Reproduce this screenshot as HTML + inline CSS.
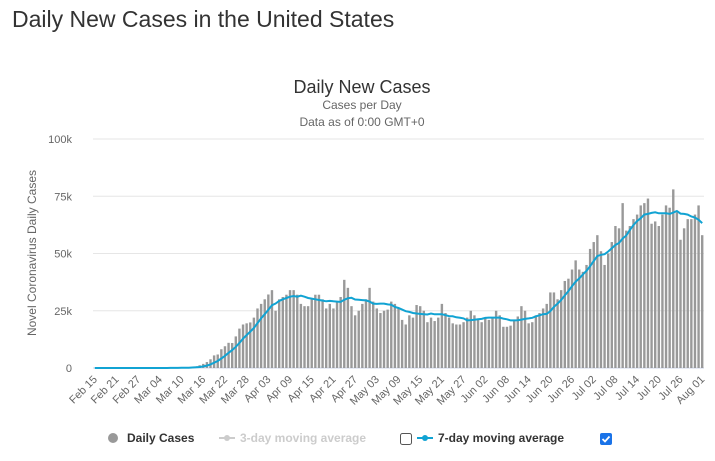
<!DOCTYPE html>
<html><head><meta charset="utf-8">
<style>
body{margin:0;background:#fff;font-family:"Liberation Sans",sans-serif;}
#wrap{position:relative;width:715px;height:461px;overflow:hidden;}
h1{position:absolute;left:12px;top:6px;margin:0;font-weight:normal;font-size:23px;color:#333;}
</style></head><body>
<div id="wrap">
<h1>Daily New Cases in the United States</h1>
<svg id="chart" width="715" height="461" style="position:absolute;left:0;top:0"></svg>
</div>
<script>
const startDate = [2020, 2, 15];
const dailyCases = [
0,0,0,0,0,0,0,0,0,0,0,0,0,0,0,
5,10,15,20,30,40,60,80,100,150,250,350,450,700,
1200,1800,2600,3800,5500,5900,8200,9500,11000,10900,13800,17200,19000,19500,19900,22000,26000,
28000,30000,32100,34000,25000,30000,31000,32000,34000,34000,32000,28000,27000,27000,30000,32000,32000,30000,26000,28000,26000,29000,31000,38500,35000,27000,23000,25000,28000,30000,
35000,29000,26000,24000,25000,25500,29000,28000,26000,21000,19000,23000,22000,27500,27000,25000,20000,22000,20500,22000,28000,24000,22000,19500,19000,19000,20000,22000,25000,23000,21000,
20000,22000,21000,22000,25000,23000,18000,18000,18500,21000,22500,27000,25000,19500,20000,23000,24000,26000,28000,33000,33000,30000,34000,38000,39000,43000,47000,43000,42000,45000,
52000,55000,58000,51000,45000,50000,55000,62000,61000,72000,60000,62000,65000,67000,71000,72000,74000,63000,64000,62000,67000,71000,70000,78000,68000,56000,61000,65000,65000,67000,71000,
58000];
const yTicks = [0,25000,50000,75000,100000];
const yTickLabels = ["0","25k","50k","75k","100k"];

const NS="http://www.w3.org/2000/svg";
const svg=document.getElementById('chart');
const X0=93,X1=704,Y0=368,Y1=139,YMAX=100000;
const n=dailyCases.length;
const step=(X1-X0)/n;
function xAt(i){return X0+(i+0.5)*step;}
function yAt(v){return Y0-(v/YMAX)*(Y0-Y1);}
function mk(tag,attrs,parent){const e=document.createElementNS(NS,tag);for(const k in attrs)e.setAttribute(k,attrs[k]);(parent||svg).appendChild(e);return e;}
function txt(s,attrs){const e=mk('text',attrs);e.textContent=s;return e;}

let t;
t=txt('Daily New Cases',{x:362,y:93,'text-anchor':'middle','font-size':18,fill:'#333'});


t=txt('Cases per Day',{x:362,y:109,'text-anchor':'middle','font-size':12,fill:'#666'});


t=txt('Data as of 0:00 GMT+0',{x:362,y:126,'text-anchor':'middle','font-size':12,fill:'#666'});


t=txt('Novel Coronavirus Daily Cases',{x:0,y:0,'text-anchor':'middle','font-size':12,fill:'#666',transform:'translate(36,253) rotate(-90)'});



yTicks.forEach((v,i)=>{
  const g=mk('line',{x1:X0,x2:X1,y1:yAt(v),y2:yAt(v),stroke:i===0?'#ccd6eb':'#e6e6e6','stroke-width':1});
  
  
  const l=txt(yTickLabels[i],{x:72,y:yAt(v)+4,'text-anchor':'end','font-size':11,fill:'#666'});
  
  
});

const months=['Jan','Feb','Mar','Apr','May','Jun','Jul','Aug'];
const mdays=[31,29,31,30,31,30,31,31];
function dateLabel(i){let m=startDate[1],d=startDate[2]+i;while(d>mdays[m-1]){d-=mdays[m-1];m++;}return months[m-1]+' '+String(d).padStart(2,'0');}

dailyCases.forEach((v,i)=>{
  const b=mk('rect',{x:xAt(i)-1.2,y:yAt(v),width:2.4,height:Y0-yAt(v),fill:'#999'});
  
  
});
for(let i=0;i<n;i+=6){
  const x=xAt(i);
  const l=txt(dateLabel(i),{x:0,y:0,'text-anchor':'end','font-size':11,fill:'#666',transform:`translate(${x+3},${Y0+12}) rotate(-45)`});
  
  
}
const pts=[];
dailyCases.forEach((v,i)=>{const s=dailyCases.slice(Math.max(0,i-6),i+1);pts.push(xAt(i).toFixed(1)+','+yAt(s.reduce((a,b)=>a+b,0)/s.length).toFixed(1));});
const ln=mk('polyline',{points:pts.join(' '),fill:'none',stroke:'#11a3d3','stroke-width':2});



// legend
const L=mk('g',{'font-size':12,'font-weight':'bold'});


let e=mk('circle',{cx:113,cy:438,r:5,fill:'#999'},L);


e=mk('text',{x:127,y:442,fill:'#333'},L);e.textContent='Daily Cases';


e=mk('line',{x1:219,x2:235,y1:438,y2:438,stroke:'#ccc','stroke-width':2},L);


e=mk('circle',{cx:227,cy:438,r:3,fill:'#ccc'},L);


e=mk('text',{x:240,y:442,fill:'#ccc'},L);e.textContent='3-day moving average';


e=mk('rect',{x:400.5,y:433.5,width:11,height:11,rx:2,fill:'#fff',stroke:'#555'},L);


e=mk('line',{x1:417,x2:433,y1:438,y2:438,stroke:'#11a3d3','stroke-width':2},L);


e=mk('circle',{cx:425,cy:438,r:3,fill:'#11a3d3'},L);


e=mk('text',{x:438,y:442,fill:'#333'},L);e.textContent='7-day moving average';


e=mk('rect',{x:600,y:433,width:12,height:12,rx:2,fill:'#1a73e8'},L);


e=mk('path',{d:'M602.5 439 l2.5 2.5 l4.5 -5',stroke:'#fff','stroke-width':1.8,fill:'none'},L);


</script>
</body></html>
